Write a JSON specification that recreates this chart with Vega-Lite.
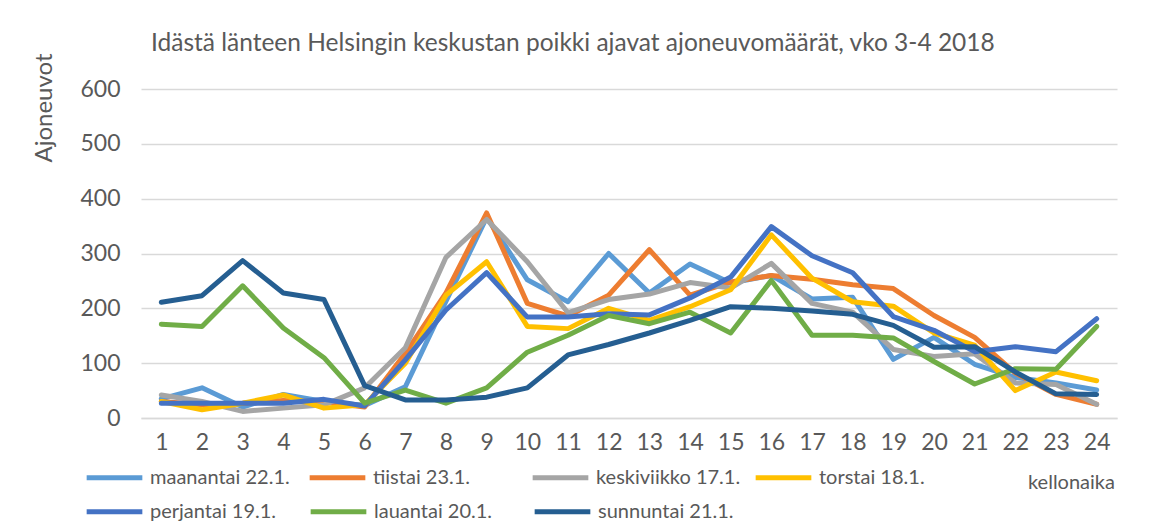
{
  "$schema": "https://vega.github.io/schema/vega-lite/v6.json",
  "autosize": {"type": "none"},
  "padding": {"left": 141, "top": 89, "right": 33, "bottom": 106},
  "width": 976,
  "height": 329,
  "background": "white",
  "title": {
    "text": "Idästä länteen Helsingin keskustan poikki ajavat ajoneuvomäärät, vko 3-4 2018",
    "anchor": "start",
    "dx": 119,
    "offset": -3,
    "font": "Lato",
    "fontSize": 24.5,
    "fontWeight": "normal",
    "color": "#595959"
  },
  "data": {
    "values": [
      {"h":1,"d":"maanantai 22.1.","v":35},{"h":2,"d":"maanantai 22.1.","v":55},{"h":3,"d":"maanantai 22.1.","v":20},{"h":4,"d":"maanantai 22.1.","v":43},{"h":5,"d":"maanantai 22.1.","v":30},{"h":6,"d":"maanantai 22.1.","v":23},{"h":7,"d":"maanantai 22.1.","v":57},{"h":8,"d":"maanantai 22.1.","v":213},{"h":9,"d":"maanantai 22.1.","v":366},{"h":10,"d":"maanantai 22.1.","v":252},{"h":11,"d":"maanantai 22.1.","v":212},{"h":12,"d":"maanantai 22.1.","v":300},{"h":13,"d":"maanantai 22.1.","v":228},{"h":14,"d":"maanantai 22.1.","v":281},{"h":15,"d":"maanantai 22.1.","v":246},{"h":16,"d":"maanantai 22.1.","v":260},{"h":17,"d":"maanantai 22.1.","v":217},{"h":18,"d":"maanantai 22.1.","v":220},{"h":19,"d":"maanantai 22.1.","v":107},{"h":20,"d":"maanantai 22.1.","v":147},{"h":21,"d":"maanantai 22.1.","v":98},{"h":22,"d":"maanantai 22.1.","v":74},{"h":23,"d":"maanantai 22.1.","v":64},{"h":24,"d":"maanantai 22.1.","v":51},
      {"h":1,"d":"tiistai 23.1.","v":30},{"h":2,"d":"tiistai 23.1.","v":24},{"h":3,"d":"tiistai 23.1.","v":27},{"h":4,"d":"tiistai 23.1.","v":32},{"h":5,"d":"tiistai 23.1.","v":29},{"h":6,"d":"tiistai 23.1.","v":20},{"h":7,"d":"tiistai 23.1.","v":118},{"h":8,"d":"tiistai 23.1.","v":228},{"h":9,"d":"tiistai 23.1.","v":374},{"h":10,"d":"tiistai 23.1.","v":209},{"h":11,"d":"tiistai 23.1.","v":186},{"h":12,"d":"tiistai 23.1.","v":224},{"h":13,"d":"tiistai 23.1.","v":307},{"h":14,"d":"tiistai 23.1.","v":224},{"h":15,"d":"tiistai 23.1.","v":248},{"h":16,"d":"tiistai 23.1.","v":260},{"h":17,"d":"tiistai 23.1.","v":253},{"h":18,"d":"tiistai 23.1.","v":243},{"h":19,"d":"tiistai 23.1.","v":236},{"h":20,"d":"tiistai 23.1.","v":187},{"h":21,"d":"tiistai 23.1.","v":147},{"h":22,"d":"tiistai 23.1.","v":82},{"h":23,"d":"tiistai 23.1.","v":43},{"h":24,"d":"tiistai 23.1.","v":25},
      {"h":1,"d":"keskiviikko 17.1.","v":42},{"h":2,"d":"keskiviikko 17.1.","v":30},{"h":3,"d":"keskiviikko 17.1.","v":12},{"h":4,"d":"keskiviikko 17.1.","v":18},{"h":5,"d":"keskiviikko 17.1.","v":24},{"h":6,"d":"keskiviikko 17.1.","v":55},{"h":7,"d":"keskiviikko 17.1.","v":128},{"h":8,"d":"keskiviikko 17.1.","v":293},{"h":9,"d":"keskiviikko 17.1.","v":362},{"h":10,"d":"keskiviikko 17.1.","v":285},{"h":11,"d":"keskiviikko 17.1.","v":192},{"h":12,"d":"keskiviikko 17.1.","v":216},{"h":13,"d":"keskiviikko 17.1.","v":226},{"h":14,"d":"keskiviikko 17.1.","v":247},{"h":15,"d":"keskiviikko 17.1.","v":237},{"h":16,"d":"keskiviikko 17.1.","v":282},{"h":17,"d":"keskiviikko 17.1.","v":209},{"h":18,"d":"keskiviikko 17.1.","v":193},{"h":19,"d":"keskiviikko 17.1.","v":125},{"h":20,"d":"keskiviikko 17.1.","v":112},{"h":21,"d":"keskiviikko 17.1.","v":117},{"h":22,"d":"keskiviikko 17.1.","v":64},{"h":23,"d":"keskiviikko 17.1.","v":61},{"h":24,"d":"keskiviikko 17.1.","v":25},
      {"h":1,"d":"torstai 18.1.","v":30},{"h":2,"d":"torstai 18.1.","v":15},{"h":3,"d":"torstai 18.1.","v":27},{"h":4,"d":"torstai 18.1.","v":42},{"h":5,"d":"torstai 18.1.","v":18},{"h":6,"d":"torstai 18.1.","v":24},{"h":7,"d":"torstai 18.1.","v":100},{"h":8,"d":"torstai 18.1.","v":224},{"h":9,"d":"torstai 18.1.","v":285},{"h":10,"d":"torstai 18.1.","v":167},{"h":11,"d":"torstai 18.1.","v":163},{"h":12,"d":"torstai 18.1.","v":200},{"h":13,"d":"torstai 18.1.","v":178},{"h":14,"d":"torstai 18.1.","v":203},{"h":15,"d":"torstai 18.1.","v":234},{"h":16,"d":"torstai 18.1.","v":334},{"h":17,"d":"torstai 18.1.","v":255},{"h":18,"d":"torstai 18.1.","v":212},{"h":19,"d":"torstai 18.1.","v":204},{"h":20,"d":"torstai 18.1.","v":155},{"h":21,"d":"torstai 18.1.","v":133},{"h":22,"d":"torstai 18.1.","v":50},{"h":23,"d":"torstai 18.1.","v":84},{"h":24,"d":"torstai 18.1.","v":68},
      {"h":1,"d":"perjantai 19.1.","v":27},{"h":2,"d":"perjantai 19.1.","v":27},{"h":3,"d":"perjantai 19.1.","v":27},{"h":4,"d":"perjantai 19.1.","v":27},{"h":5,"d":"perjantai 19.1.","v":34},{"h":6,"d":"perjantai 19.1.","v":22},{"h":7,"d":"perjantai 19.1.","v":106},{"h":8,"d":"perjantai 19.1.","v":197},{"h":9,"d":"perjantai 19.1.","v":265},{"h":10,"d":"perjantai 19.1.","v":184},{"h":11,"d":"perjantai 19.1.","v":184},{"h":12,"d":"perjantai 19.1.","v":190},{"h":13,"d":"perjantai 19.1.","v":188},{"h":14,"d":"perjantai 19.1.","v":219},{"h":15,"d":"perjantai 19.1.","v":257},{"h":16,"d":"perjantai 19.1.","v":349},{"h":17,"d":"perjantai 19.1.","v":296},{"h":18,"d":"perjantai 19.1.","v":265},{"h":19,"d":"perjantai 19.1.","v":185},{"h":20,"d":"perjantai 19.1.","v":160},{"h":21,"d":"perjantai 19.1.","v":121},{"h":22,"d":"perjantai 19.1.","v":130},{"h":23,"d":"perjantai 19.1.","v":121},{"h":24,"d":"perjantai 19.1.","v":181},
      {"h":1,"d":"lauantai 20.1.","v":171},{"h":2,"d":"lauantai 20.1.","v":167},{"h":3,"d":"lauantai 20.1.","v":241},{"h":4,"d":"lauantai 20.1.","v":164},{"h":5,"d":"lauantai 20.1.","v":110},{"h":6,"d":"lauantai 20.1.","v":27},{"h":7,"d":"lauantai 20.1.","v":51},{"h":8,"d":"lauantai 20.1.","v":27},{"h":9,"d":"lauantai 20.1.","v":55},{"h":10,"d":"lauantai 20.1.","v":120},{"h":11,"d":"lauantai 20.1.","v":151},{"h":12,"d":"lauantai 20.1.","v":187},{"h":13,"d":"lauantai 20.1.","v":172},{"h":14,"d":"lauantai 20.1.","v":193},{"h":15,"d":"lauantai 20.1.","v":155},{"h":16,"d":"lauantai 20.1.","v":251},{"h":17,"d":"lauantai 20.1.","v":151},{"h":18,"d":"lauantai 20.1.","v":151},{"h":19,"d":"lauantai 20.1.","v":146},{"h":20,"d":"lauantai 20.1.","v":103},{"h":21,"d":"lauantai 20.1.","v":62},{"h":22,"d":"lauantai 20.1.","v":90},{"h":23,"d":"lauantai 20.1.","v":89},{"h":24,"d":"lauantai 20.1.","v":167},
      {"h":1,"d":"sunnuntai 21.1.","v":211},{"h":2,"d":"sunnuntai 21.1.","v":223},{"h":3,"d":"sunnuntai 21.1.","v":287},{"h":4,"d":"sunnuntai 21.1.","v":228},{"h":5,"d":"sunnuntai 21.1.","v":216},{"h":6,"d":"sunnuntai 21.1.","v":59},{"h":7,"d":"sunnuntai 21.1.","v":33},{"h":8,"d":"sunnuntai 21.1.","v":33},{"h":9,"d":"sunnuntai 21.1.","v":38},{"h":10,"d":"sunnuntai 21.1.","v":55},{"h":11,"d":"sunnuntai 21.1.","v":115},{"h":12,"d":"sunnuntai 21.1.","v":134},{"h":13,"d":"sunnuntai 21.1.","v":155},{"h":14,"d":"sunnuntai 21.1.","v":178},{"h":15,"d":"sunnuntai 21.1.","v":203},{"h":16,"d":"sunnuntai 21.1.","v":200},{"h":17,"d":"sunnuntai 21.1.","v":195},{"h":18,"d":"sunnuntai 21.1.","v":189},{"h":19,"d":"sunnuntai 21.1.","v":169},{"h":20,"d":"sunnuntai 21.1.","v":129},{"h":21,"d":"sunnuntai 21.1.","v":130},{"h":22,"d":"sunnuntai 21.1.","v":84},{"h":23,"d":"sunnuntai 21.1.","v":44},{"h":24,"d":"sunnuntai 21.1.","v":43}
    ]
  },
  "encoding": {
    "x": {
      "field": "h",
      "type": "ordinal",
      "scale": {"type": "point", "padding": 0.5},
      "axis": {
        "title": "kellonaika",
        "titleX": 930,
        "titleY": 64,
        "titleAlign": "center",
        "titleBaseline": "middle",
        "titleFont": "Lato",
        "titleFontSize": 20,
        "titleFontWeight": "normal",
        "titleColor": "#595959",
        "labelAngle": 0,
        "labelFont": "Lato",
        "labelFontSize": 23,
        "labelColor": "#595959",
        "labelPadding": 13,
        "ticks": false,
        "domainColor": "#D9D9D9",
        "domainWidth": 1.5,
        "grid": false
      }
    },
    "y": {
      "field": "v",
      "type": "quantitative",
      "scale": {"domain": [0, 600], "nice": false},
      "axis": {
        "values": [0, 100, 200, 300, 400, 500, 600],
        "title": "Ajoneuvot",
        "titleX": -97,
        "titleY": -36,
        "titleAngle": -90,
        "titleAlign": "right",
        "titleBaseline": "middle",
        "titleFont": "Lato",
        "titleFontSize": 24,
        "titleFontWeight": "normal",
        "titleColor": "#595959",
        "labelFont": "Lato",
        "labelFontSize": 23,
        "labelColor": "#595959",
        "labelPadding": 21,
        "ticks": false,
        "domain": false,
        "grid": true,
        "gridColor": "#D9D9D9",
        "gridWidth": 1.5
      }
    }
  },
  "layer": [
    {
      "transform": [{"filter": {"field": "d", "oneOf": ["maanantai 22.1.", "tiistai 23.1.", "keskiviikko 17.1.", "torstai 18.1."]}}],
      "mark": {"type": "line", "strokeWidth": 5, "strokeCap": "round", "strokeJoin": "round"},
      "encoding": {
        "stroke": {
          "field": "d",
          "type": "nominal",
          "sort": null,
          "scale": {
            "domain": ["maanantai 22.1.", "tiistai 23.1.", "keskiviikko 17.1.", "torstai 18.1."],
            "range": ["#5B9BD5", "#ED7D31", "#A5A5A5", "#FFC000"]
          },
          "legend": {
            "title": null,
            "orient": "none",
            "legendX": -57,
            "legendY": 358,
            "direction": "horizontal",
            "columns": 4,
            "gridAlign": "all",
            "columnPadding": 4,
            "symbolType": "stroke",
            "symbolStrokeWidth": 5,
            "symbolSize": 3100,
            "labelFont": "Lato",
            "labelFontSize": 20,
            "labelColor": "#595959",
            "labelOffset": 5,
            "labelLimit": 300
          }
        }
      }
    },
    {
      "transform": [{"filter": {"field": "d", "oneOf": ["perjantai 19.1.", "lauantai 20.1.", "sunnuntai 21.1."]}}],
      "mark": {"type": "line", "strokeWidth": 5, "strokeCap": "round", "strokeJoin": "round"},
      "encoding": {
        "color": {
          "field": "d",
          "type": "nominal",
          "sort": null,
          "scale": {
            "domain": ["perjantai 19.1.", "lauantai 20.1.", "sunnuntai 21.1."],
            "range": ["#4472C4", "#70AD47", "#255E91"]
          },
          "legend": {
            "title": null,
            "orient": "none",
            "legendX": -57,
            "legendY": 392,
            "direction": "horizontal",
            "columns": 3,
            "gridAlign": "all",
            "columnPadding": 14,
            "symbolType": "stroke",
            "symbolStrokeWidth": 5,
            "symbolSize": 3100,
            "labelFont": "Lato",
            "labelFontSize": 20,
            "labelColor": "#595959",
            "labelOffset": 5,
            "labelLimit": 300
          }
        }
      }
    }
  ],
  "config": {"view": {"stroke": null}}
}
